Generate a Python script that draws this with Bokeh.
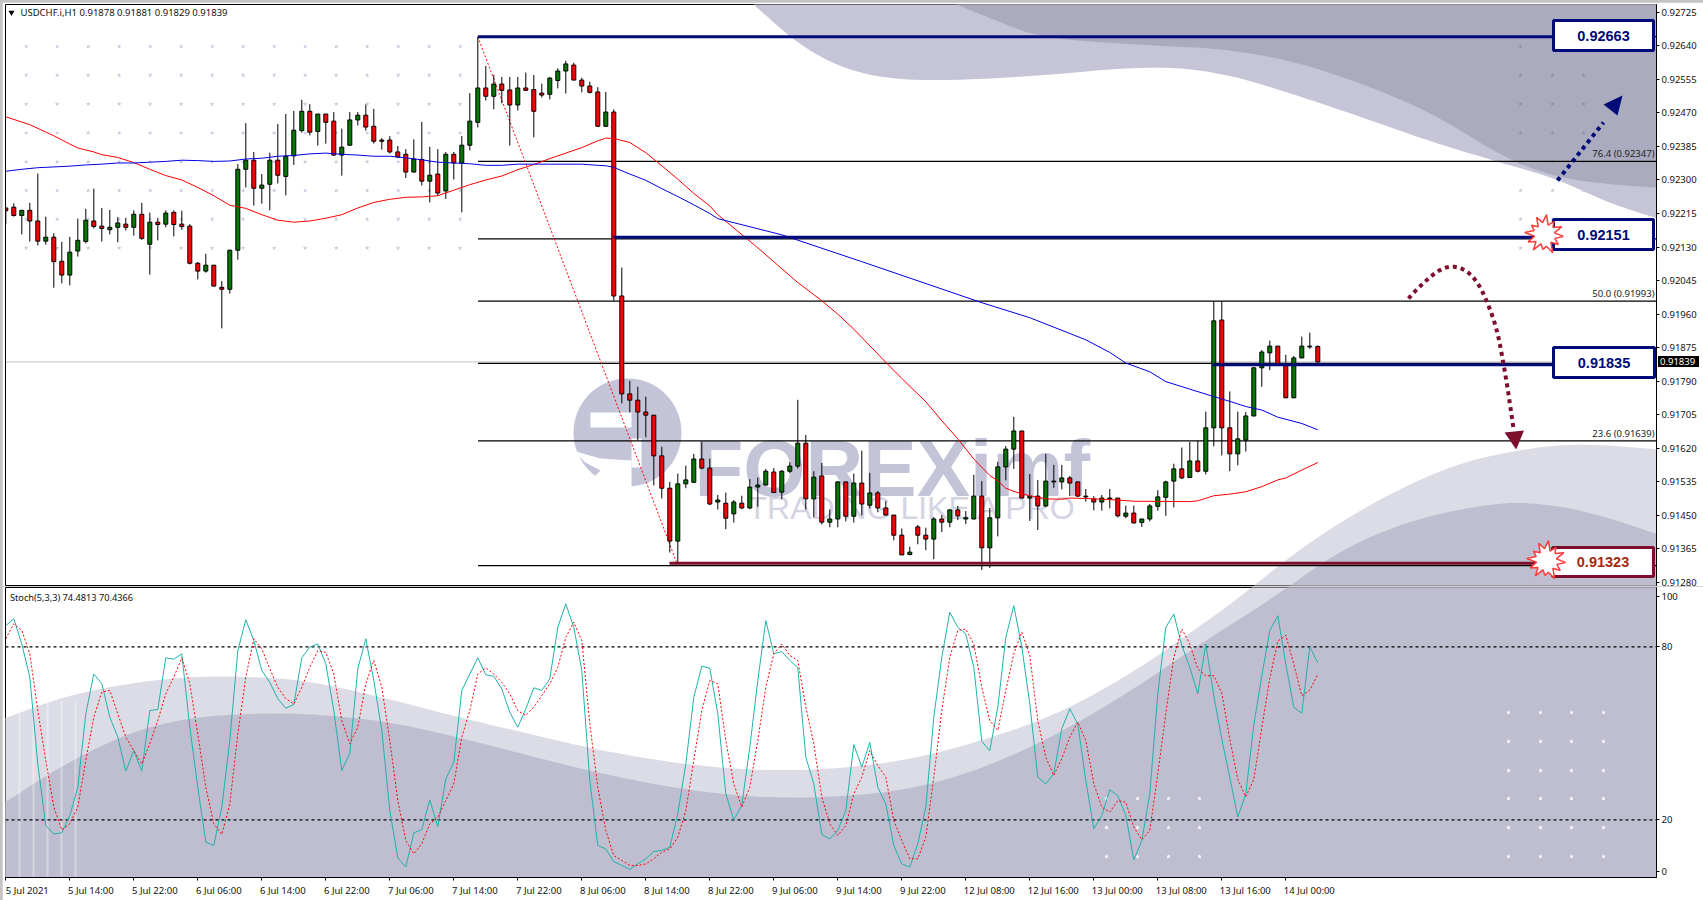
from bokeh.plotting import figure
from bokeh.layouts import column
from bokeh.models import Range1d, FixedTicker, NumeralTickFormatter, Div
from bokeh.core.properties import value
from bokeh.embed import file_html
from bokeh.resources import INLINE
import numpy as np

# ---- quotes, in 1/100000 CHF ----
open_q = [92229,92231,92210,92223,92196,92145,92155,92094,92059,92120,
92144,92196,92183,92174,92180,92188,92180,92213,92137,92193,
92188,92218,92188,92183,92089,92069,92084,92028,92023,92122,
92327,92350,92279,92289,92350,92309,92361,92425,92474,92423,
92467,92449,92363,92388,92452,92464,92436,92401,92401,92371,
92365,92320,92352,92297,92315,92272,92365,92343,92388,92446,
92533,92512,92543,92528,92490,92533,92529,92520,92517,92552,
92576,92591,92553,92538,92523,92436,92472,92006,91758,91742,
91712,91704,91601,91519,91385,91530,91534,91593,91570,91484,
91481,91454,91481,91469,91522,91527,91560,91509,91562,91575,
91633,91492,91550,91433,91441,91535,91448,91532,91476,91507,
91469,91451,91400,91351,91421,91400,91390,91441,91433,91464,
91441,91441,91499,91368,91444,91573,91618,91664,91494,91499,
91474,91535,91535,91545,91535,91499,91492,91484,91492,91494,
91448,91456,91432,91441,91473,91496,91537,91568,91546,91588,
91562,91672,91945,91672,91606,91641,91702,91824,91862,91879,
91834,91748,91849,91877,91878]
close_q = [92222,92210,92223,92196,92145,92155,92093,92059,92117,92147,
92198,92182,92177,92180,92191,92180,92213,92152,92193,92187,
92216,92187,92182,92089,92069,92084,92031,92023,92122,92327,
92350,92279,92287,92350,92312,92360,92426,92474,92421,92467,
92446,92363,92383,92452,92464,92434,92398,92398,92371,92358,
92320,92353,92297,92312,92267,92365,92343,92388,92449,92533,
92512,92543,92527,92490,92533,92527,92474,92515,92558,92576,
92594,92553,92538,92522,92436,92472,92006,91758,91742,91712,
91704,91601,91519,91385,91530,91540,91593,91570,91479,91489,
91443,91484,91469,91522,91527,91562,91508,91562,91575,91633,
91492,91547,91433,91441,91535,91448,91532,91479,91507,91469,
91451,91400,91350,91357,91400,91390,91441,91433,91464,91449,
91444,91499,91368,91444,91573,91618,91664,91494,91499,91474,
91537,91537,91545,91532,91499,91497,91484,91494,91494,91449,
91456,91431,91441,91474,91497,91535,91568,91545,91588,91562,
91672,91943,91672,91606,91644,91702,91824,91864,91879,91834,
91748,91849,91879,91879,91839]
high_q = [92231,92241,92224,92242,92316,92207,92165,92143,92156,92202,
92227,92278,92229,92224,92206,92204,92223,92242,92217,92204,
92223,92223,92222,92188,92092,92113,92084,92044,92123,92340,
92444,92371,92315,92369,92442,92467,92475,92503,92492,92467,
92467,92472,92430,92472,92472,92491,92480,92406,92411,92386,
92378,92403,92447,92384,92378,92371,92371,92411,92520,92663,
92589,92566,92561,92561,92561,92572,92566,92544,92561,92583,
92602,92597,92559,92549,92535,92523,92479,92078,91791,91776,
91751,91704,91624,91535,91556,91576,91606,91636,91594,91502,
91508,91489,91500,91542,91546,91568,91570,91565,91585,91743,
91654,91562,91583,91465,91537,91535,91556,91614,91558,91512,
91486,91451,91417,91371,91426,91419,91446,91451,91466,91474,
91461,91553,91537,91469,91586,91626,91700,91664,91555,91540,
91606,91578,91578,91550,91535,91517,91499,91502,91517,91494,
91475,91475,91441,91479,91514,91538,91581,91622,91636,91639,
91713,91993,91993,91764,91713,91712,91826,91869,91893,91879,
91857,91854,91903,91913,91881]
low_q = [92188,92207,92162,92144,92134,92136,92027,92038,92033,92106,
92139,92177,92144,92162,92142,92172,92159,92148,92060,92147,
92180,92157,92174,92086,92048,92065,92031,91924,92012,92098,
92281,92235,92240,92223,92291,92261,92338,92420,92413,92387,
92392,92361,92311,92387,92438,92425,92392,92377,92367,92357,
92305,92319,92286,92243,92259,92252,92301,92218,92375,92433,
92501,92479,92494,92387,92476,92526,92408,92509,92504,92532,
92519,92553,92522,92519,92434,92434,91994,91734,91711,91641,
91648,91526,91493,91356,91331,91519,91532,91567,91476,91465,
91415,91432,91466,91466,91472,91527,91507,91491,91557,91569,
91465,91445,91427,91420,91420,91435,91432,91450,91468,91458,
91450,91387,91350,91349,91377,91362,91339,91408,91420,91438,
91428,91440,91312,91317,91397,91539,91568,91494,91436,91413,
91471,91520,91516,91499,91497,91485,91463,91462,91468,91445,
91443,91430,91421,91435,91462,91449,91470,91542,91545,91559,
91554,91625,91602,91562,91577,91612,91701,91776,91818,91834,
91748,91748,91849,91872,91829]

ma_red_k = [0,3,6,8,9,11,12,14,16,18,20,22,24,26,28,30,32,34,36,38,40,42,44,46,48,50,52,54,56,58,60,62,64,66,68,70,72,74,75,76,78,80,82,84,86,88,89,94,99,102,104,106,108,110,112,115,117,119,121,123,124,125,126,127,128,129,130,132,133,135,137,139,141,148,149,151,153,155,157,159,160,162,164]
ma_red_q = [92460,92440,92412,92391,92381,92371,92364,92357,92344,92327,92311,92300,92281,92260,92236,92228,92212,92198,92193,92196,92203,92212,92229,92243,92251,92256,92257,92260,92274,92288,92300,92310,92326,92339,92354,92368,92382,92399,92406,92405,92395,92369,92336,92302,92266,92234,92212,92128,92040,91994,91960,91922,91880,91838,91797,91738,91690,91644,91593,91551,91538,91519,91511,91505,91500,91496,91492,91491,91494,91493,91491,91489,91486,91485,91487,91500,91504,91510,91523,91540,91545,91565,91584]
ma_blue_k = [0,2,4,6,8,10,12,14,16,18,20,22,24,26,28,30,32,34,36,38,40,42,44,46,48,50,52,54,56,58,60,62,64,72,74,75,76,78,80,82,84,86,88,89,97,107,122,128,135,138,140,143,145,148,151,153,155,157,159,162,164]
ma_blue_q = [92322,92327,92331,92333,92335,92338,92340,92343,92343,92345,92347,92350,92349,92347,92348,92353,92355,92360,92362,92366,92368,92365,92363,92360,92360,92356,92351,92345,92343,92341,92337,92337,92340,92340,92337,92336,92332,92315,92299,92278,92258,92237,92215,92202,92161,92093,91989,91951,91895,91863,91836,91814,91789,91770,91751,91739,91726,91717,91699,91683,91667]

stoch_main = [87.4,89.7,81.0,69.5,39.4,18.0,15.1,15.5,21.5,31.3,56.8,70.6,67.2,55.6,48.7,36.9,44.0,36.9,57.9,58.3,
76.2,75.7,77.6,52.1,31.3,12.3,11.1,24.4,47.5,78.7,89.4,82.2,71.8,67.7,62.0,58.7,60.0,76.2,79.9,81.0,
74.1,57.9,37.1,43.1,72.4,82.8,68.3,51.0,23.2,6.8,3.6,15.5,16.6,26.9,17.7,34.2,40.0,64.9,70.6,76.2,
70.3,69.8,65.4,57.3,52.1,58.5,65.8,64.9,68.9,86.8,94.9,86.8,71.8,33.6,11.1,9.9,5.5,4.2,2.8,4.7,
6.5,9.0,9.4,10.5,22.1,39.4,62.5,73.3,72.6,56.8,29.0,20.0,25.0,45.2,68.3,89.1,77.6,78.4,75.3,72.7,
41.7,32.5,14.9,13.4,16.3,23.2,46.1,38.3,46.9,31.3,25.5,11.1,4.7,3.6,11.7,24.4,55.6,76.4,92.0,86.8,
84.5,72.9,47.2,44.0,59.1,83.3,94.3,79.9,60.2,34.8,32.5,36.0,51.6,58.5,53.3,33.6,16.9,21.5,30.4,28.4,
21.5,6.1,12.8,29.0,63.7,86.8,91.4,80.5,72.9,63.7,81,63,48,34.7,21,29,53,70,85.6,90.8,74,59,57,80,74.48]
stoch_signal = [82.8,88,85.7,77.6,57.9,40.6,24.4,16.5,18.6,24.4,40.6,55.6,64.3,64.9,56.8,48.7,44,39.4,46.4,54.4,
63.7,69.5,76.2,67.2,49.8,31.3,18.6,14.9,25.5,49.8,69.5,82.8,79.3,72.4,66,62,60.2,66,72.9,78.7,
78.1,70.6,54.4,46.4,52.1,67.2,75.3,66,47.5,26.7,12.8,8.2,11.7,18.6,20.9,26.7,32.5,48.7,57.9,70.6,
72.7,70.6,67.7,63.7,57.9,56.2,59.1,63.1,67.2,72.9,83.3,88.6,82.2,53.3,31.3,
16.3,7.6,5.9,4.2,4.2,4.7,6.5,8.8,9.9,14.0,23.2,40.6,57.9,68.3,67.2,47.5,32.5,24.4,31.3,47.5,
66.0,77.6,81.0,77.0,75.3,59.1,46.4,27.9,18.6,14.6,18.0,29.0,34.8,44.0,38.8,34.8,19.8,12.8,6.5,6.5,
14.0,34.8,57.9,76.4,85.7,86.2,81.0,66.0,54.4,51.0,64.9,77.6,85.1,77.0,54.4,41.7,35.4,41.2,48.7,53.9,
47.5,32.5,24.4,22.7,26.7,26.1,17.5,13.1,16.3,36.0,56.8,76.4,86.2,81.0,72.4,
70,70,64,48,34,28,34,52,69,82,84,74,63,65,70.44]

price_ticks = [0.92725,0.92640,0.92555,0.92470,0.92385,0.92300,0.92215,0.92130,0.92045,0.91960,0.91875,0.91790,0.91705,0.91620,0.91535,0.91450,0.91365,0.91280]
time_labels = ["5 Jul 2021","5 Jul 14:00","5 Jul 22:00","6 Jul 06:00","6 Jul 14:00","6 Jul 22:00","7 Jul 06:00","7 Jul 14:00","7 Jul 22:00","8 Jul 06:00","8 Jul 14:00","8 Jul 22:00","9 Jul 06:00","9 Jul 14:00","9 Jul 22:00","12 Jul 08:00","12 Jul 16:00","13 Jul 00:00","13 Jul 08:00","13 Jul 16:00","14 Jul 00:00"]
time_ticks = list(range(0, 168, 8))
fib_levels = [0.92663,0.92347,0.92151,0.91993,0.91835,0.91639,0.91323]
fib_labels = {0.92347:"76.4 (0.92347)",0.91993:"50.0 (0.91993)",0.91639:"23.6 (0.91639)"}
bid = 0.91839
start_k = 59; end_k = 84

FONT = "Noto Sans"
# --- pixel <-> data helpers for the decoration layer
X = lambda px: (np.asarray(px, float) - 5.3) / 8
Y = lambda py: 0.92725 - (np.asarray(py, float) - 11.7) / 39470
S = lambda py: (877 - np.asarray(py, float)) / 2.883

bars = np.arange(len(open_q))
O, C, H, L = [np.array(a) / 1e5 for a in (open_q, close_q, high_q, low_q)]

xr = Range1d(-0.0375, -0.0375 + 1651 / 8)
p1 = figure(width=1701, height=584, x_range=xr, y_range=Range1d(float(Y(585)), float(Y(4))),
            x_axis_location=None, y_axis_location="right", toolbar_location=None,
            output_backend="svg", min_border_left=3, min_border_right=47, min_border_top=2, min_border_bottom=1,
            background_fill_color="white", border_fill_color="white", outline_line_color="black", margin=(2, 0, 0, 2))
p1.frame_width = 1651; p1.frame_height = 581
p1.grid.visible = False
ax = p1.yaxis[0]
ax.ticker = FixedTicker(ticks=price_ticks)
ax.formatter = NumeralTickFormatter(format="0.00000")
ax.major_label_text_font = FONT; ax.major_label_text_font_size = "9.5px"; ax.major_label_text_color = "#111111"
ax.major_tick_out = 3; ax.major_tick_in = 0; ax.minor_tick_out = 0; ax.minor_tick_in = 0
ax.major_label_standoff = 2; ax.axis_line_color = "black"

LIGHT1, DARK1 = "#c5c5d7", "#ababbf"
LIGHT2, DARK2 = "#dcdce6", "#bebed0"

def smooth(pts, n=3):
    a = np.array(pts, float)
    for _ in range(n):
        q = 0.75 * a[:-1] + 0.25 * a[1:]
        r = 0.25 * a[:-1] + 0.75 * a[1:]
        m = np.empty((2 * len(q), 2)); m[0::2] = q; m[1::2] = r
        a = np.vstack([a[0], m, a[-1]])
    return a

def poly(p, pts, fy, color, tail=()):
    a = smooth(pts) if tail else np.array(pts, float)
    if tail:
        a = np.vstack([a, np.array(tail, float)])
    p.patch(X(a[:,0]), fy(a[:,1]), fill_color=color, line_color=None)

poly(p1, [(753,4),(804,49),(858,74),(924,81),(1032,76),(1150,65),(1221,72),(1291,93),(1362,117),(1433,142),(1503,163),(1556,178),(1609,203),(1670,222)], Y, LIGHT1, tail=[(1670,-5),(753,-5)])
poly(p1, [(956,4),(1000,22),(1043,38),(1150,45),(1221,48),(1291,60),(1362,83),(1433,113),(1503,157),(1556,177),(1609,184),(1670,188)], Y, DARK1, tail=[(1670,-5),(956,-5)])
poly(p1, [(1235,600),(1306,543),(1381,497),(1455,463),(1530,447),(1586,443),(1670,450)], Y, LIGHT2, tail=[(1670,600)])
poly(p1, [(1269,600),(1343,547),(1418,517),(1492,503),(1530,502),(1586,510),(1670,538)], Y, DARK2, tail=[(1670,600)])

# dot pattern
gx, gy = np.meshgrid(25.7 + 31 * np.arange(15), 46 + 28.8 * np.arange(8))
p1.scatter(X(gx.ravel()), Y(gy.ravel()), marker="star", size=5, fill_color="#c8c8dc", line_color=None)
rx, ry = np.meshgrid([1520,1552,1583], 46 + 28.8 * np.arange(1,8))
rx, ry = rx.ravel(), ry.ravel()
p1.scatter(X(rx[ry<170]), Y(ry[ry<170]), marker="star", size=5, fill_color="#8f8fa6", line_color=None)
p1.scatter(X(rx[ry>170]), Y(ry[ry>170]), marker="star", size=5, fill_color="#c8c8dc", line_color=None)
p1.scatter(X([1520]), Y([46]), marker="star", size=5, fill_color="#8f8fa6", line_color=None)

# watermark
WM = "#c4c4d9"
p1.scatter(X([627]), Y([432]), marker="circle", size=108, fill_color=WM, line_color=None)
p1.quad(left=X(590), right=X(631), top=Y(412), bottom=Y(427), fill_color="white", line_color=None)
p1.quad(left=X(631), right=X(641), top=Y(438), bottom=Y(467), fill_color="white", line_color=None)
poly(p1, [(572,450),(600,458),(631,460),(631,490),(572,490),(590,480),(600,470),(585,462)], Y, "white")
p1.text(X([694]), Y([468]), text=["FOREXimf"], text_font=value("Liberation Sans"), text_font_style="bold", text_font_size="80px",
        text_color=WM, text_baseline="alphabetic", text_align="left")
p1.text(X([747]), Y([507]), text=["TRADING LIKE A PRO"], text_font=value("Liberation Sans"), text_font_size="32px",
        text_color="#d4d4e4", text_baseline="alphabetic", text_align="left")

# bid line and fibonacci
p1.segment(x0=[xr.start], x1=[xr.end], y0=[bid], y1=[bid], line_color="#c0c0c0", line_width=1)
p1.segment(x0=[float(X(477.5))]*len(fib_levels), x1=[xr.end]*len(fib_levels), y0=fib_levels, y1=fib_levels, line_color="black", line_width=1.25)
p1.line([start_k, end_k], [H[start_k], 0.91323], line_color="red", line_width=1, line_dash="2 2")

# candles
up = C >= O
p1.segment(bars, H, bars, L, line_color="black", line_width=1)
p1.vbar(bars[up], top=C[up], bottom=O[up], width=0.5, fill_color="#007800", line_color="black", line_width=1)
p1.vbar(bars[~up], top=O[~up], bottom=C[~up], width=0.5, fill_color="#ff0000", line_color="black", line_width=1)

p1.line(ma_red_k, np.array(ma_red_q)/1e5, line_color="#ff0000", line_width=1)
p1.line(ma_blue_k, np.array(ma_blue_q)/1e5, line_color="#0000e6", line_width=1)

# fibonacci texts
for lv, t in fib_labels.items():
    p1.text(X([1654]), [float(lv) + 1/39470], text=[t], text_font=value(FONT), text_font_size="9.5px", text_color="#222222",
            text_align="right", text_baseline="bottom")

# levels
NAVY, MAROON = "#000a78", "#7d0f2d"
level_marks = [(0.92663, 477.5, NAVY), (0.92155, 613, NAVY), (0.91832, 1212, NAVY), (0.91329, 669, MAROON)]
for lv, x0, col in level_marks:
    p1.segment(X(x0), lv, X(1553), lv, line_color=col, line_width=3)

for (l,r,t,b,col,txtc,txt) in [(1553,1653,20,50,NAVY,NAVY,"0.92663"),(1553,1653,219,249,NAVY,NAVY,"0.92151"),
                               (1553,1654,347,377,NAVY,NAVY,"0.91835"),(1552,1653,547,576,MAROON,"#a52a14","0.91323")]:
    p1.quad(left=X(l), right=X(r), top=Y(t), bottom=Y(b), fill_color="white", line_color=col, line_width=3)
    p1.text(X((l+r)/2), Y((t+b)/2), text=[txt], text_font=value("Liberation Sans"), text_font_style="bold", text_font_size="14.5px",
            text_color=txtc, text_align="center", text_baseline="middle")

def burst(cx, cy):
    a = np.linspace(0, 2*np.pi, 25)[:-1] + 0.1
    r = np.array([19,11,17,10,20,12,15,10,19,11,18,10,20,11,16,10,19,12,20,10,16,11,19,10], float)
    return X(cx + r*np.cos(a)), Y(cy + r*np.sin(a))
for c in [(1544,234),(1546,560)]:
    bx, by = burst(*c)
    p1.patch(bx, by, fill_color="white", line_color="#ff3c3c", line_width=1.5)

# forecast arrows
p1.line(X([1557,1603]), Y([180,122]), line_color=NAVY, line_width=4, line_dash="4 4")
poly(p1, [(1622,95),(1603,104),(1617,115)], Y, NAVY)
arc = smooth([(1408,298),(1418,287),(1437,270),(1451.6,265),(1466.5,270),(1478,283),(1487,302),(1496,327),(1502,357),(1507.5,390),(1513,428)], 2)
p1.line(X(arc[:,0]), Y(arc[:,1]), line_color=MAROON, line_width=4, line_dash="4 4")
poly(p1, [(1504,432),(1523.5,430),(1515.7,449)], Y, MAROON)

# header
p1.scatter(X([11]), Y([12]), marker="inverted_triangle", size=6, fill_color="black", line_color=None)
p1.text(X([20]), Y([12]), text=["USDCHF.i,H1  0.91878 0.91881 0.91829 0.91839"], text_font=value(FONT), text_font_size="9.5px",
        text_color="#111111", text_baseline="middle", text_align="left")

# ---------- stochastic pane
p2 = figure(width=1701, height=314, x_range=xr, y_range=Range1d(0, 290/2.883),
            x_axis_location="below", y_axis_location="right", toolbar_location=None,
            output_backend="svg", min_border_left=3, min_border_right=47, min_border_top=1, min_border_bottom=23,
            background_fill_color="white", border_fill_color="white", outline_line_color="black", margin=(0, 0, 0, 2))
p2.frame_width = 1651; p2.frame_height = 290
p2.grid.visible = False
ay = p2.yaxis[0]
ay.ticker = FixedTicker(ticks=[97.5,80,20,2.1])
ay.major_label_overrides = {97.5:"100",80:"80",20:"20",2.1:"0"}
ay.major_label_text_font = FONT; ay.major_label_text_font_size = "9.5px"; ay.major_label_text_color = "#111111"
ay.major_tick_out = 3; ay.major_tick_in = 0; ay.minor_tick_out = 0; ay.minor_tick_in = 0; ay.major_label_standoff = 2
# time labels start at their tick: each label's centre sits half its width right of the tick
label_w = {10: 43, 11: 42, 12: 47}
centers = [t + label_w[len(s)] / 16 for t, s in zip(time_ticks, time_labels)]
ax2 = p2.xaxis[0]
ax2.ticker = FixedTicker(ticks=centers, minor_ticks=time_ticks)
ax2.major_label_overrides = {c: s for c, s in zip(centers, time_labels)}
ax2.major_tick_out = 0; ax2.major_tick_in = 0; ax2.minor_tick_out = 3; ax2.minor_tick_in = 0
ax2.major_label_text_font = FONT; ax2.major_label_text_font_size = "9.5px"; ax2.major_label_text_color = "#111111"
ax2.major_label_standoff = 3

poly(p2, [(-10,720),(4.6,718),(38,705),(76.5,693),(134,682),(191,676),(249,676),(306,680),(383,697),(459,717),(536,735),(600,750),(676.5,763),(753,770),(830,769),(906,760),(983,740),(1059,713),(1136,670),(1200,625),(1235,600),(1306,543),(1670,543)], S, LIGHT2, tail=[(1670,880),(-10,880)])
poly(p2, [(-10,808),(4.6,802),(38,780),(76.5,757),(134,730),(191,717),(249,713),(306,713),(383,720),(459,737),(536,757),(600,773),(676,788),(753,797),(830,797),(906,790),(983,768),(1059,733),(1136,687),(1200,643),(1269,600),(1343,547),(1670,547)], S, DARK2, tail=[(1670,880),(-10,880)])
# pale vertical strokes
p2.quad(left=X([18,32,46,60,74]), right=X([20,34,48,62,76]), top=S([700]*5), bottom=S([877]*5), fill_color="white", fill_alpha=0.35, line_color=None)
# white dots
d1x, d1y = np.meshgrid([1106,1137,1168,1199], [798,827,856])
d2x, d2y = np.meshgrid([1508,1540,1571,1603], [712,741,770,798,827,856])
p2.scatter(X(np.r_[d1x.ravel(), d2x.ravel()]), S(np.r_[d1y.ravel(), d2y.ravel()]), marker="star", size=5, fill_color="white", line_color=None)

for lv in (80, 20):
    p2.segment([xr.start], [lv], [xr.end], [lv], line_color="black", line_width=1.25, line_dash="3 3")
p2.line(np.arange(len(stoch_main)), stoch_main, line_color="#20b2aa", line_width=1)
p2.line(np.arange(len(stoch_signal)), stoch_signal, line_color="#ff0000", line_width=1, line_dash="2 2")
p2.text(X([9.5]), S([597]), text=["Stoch(5,3,3) 74.4813 70.4366"], text_font=value(FONT), text_font_size="9.2px",
        text_color="#111111", text_baseline="middle", text_align="left")

# current price tag over the scale
tag = Div(text="0.91839", width=41, height=11, margin=0,
          styles={"position": "absolute", "left": "1658px", "top": "356px", "background": "black", "color": "white",
                  "font-family": FONT, "font-size": "9.5px", "line-height": "11px", "padding-left": "2px", "z-index": "5"})

page = column(p1, p2, tag, spacing=0, styles={"background": "#c4c4c4", "position": "relative"})
open("out.html", "w").write(file_html(page, INLINE))
